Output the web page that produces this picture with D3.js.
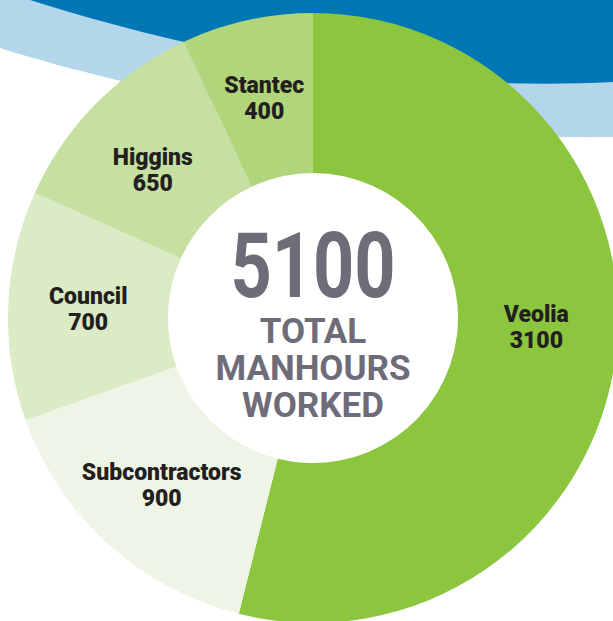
<!DOCTYPE html>
<html>
<head>
<meta charset="utf-8">
<script src="https://cdn.jsdelivr.net/npm/d3@7"></script>
<style>
  html, body { margin: 0; padding: 0; background: #fff; }
  svg { display: block; }
</style>
</head>
<body>
<script>
// data
const names = ["Veolia", "Subcontractors", "Council", "Higgins", "Stantec"]
const hours = [3100, 900, 700, 650, 400]
const colors = ["#8cc63f", "#eef5e6", "#dbebc5", "#c5e0a0", "#b0d57a"]
const totalLabel = "5100"
const centerLines = ["TOTAL", "MANHOURS", "WORKED"]

const width = 613
const height = 621
const cx = 313, cy = 318
const outerR = 305, innerR = 145

const svg = d3.select("body")
    .append("svg")
    .attr("xmlns", "http://www.w3.org/2000/svg")
    .attr("width", width)
    .attr("height", height)

// background waves at the top
const dark = d3.path()
dark.moveTo(30, 0)
dark.bezierCurveTo(250, 70, 450, 90, 613, 82)
dark.lineTo(613, 0)
dark.closePath()

const light = d3.path()
light.moveTo(0, 0)
light.lineTo(613, 0)
light.lineTo(613, 137)
light.bezierCurveTo(380, 140, 150, 95, 0, 48)
light.closePath()

svg.append("path").attr("d", light.toString()).style("fill", "#b3d6ea")
svg.append("path").attr("d", dark.toString()).style("fill", "#0077b5")

const rows = names.map(function (n, i) { return { name: n, value: hours[i], color: colors[i] } })

const pie = d3.pie().sort(null).value(function (d) { return d.value })
const arc = d3.arc().innerRadius(innerR).outerRadius(outerR)
const labelArc = d3.arc().innerRadius(225).outerRadius(225)

const g = svg.append("g").attr("transform", "translate(" + cx + "," + cy + ")")

g.append("circle").attr("r", innerR).style("fill", "#fff")

g.selectAll("path.slice")
    .data(pie(rows))
    .enter().append("path")
    .attr("class", "slice")
    .attr("d", arc)
    .style("fill", function (d) { return d.data.color })

// a couple of labels sit a bit off the centroid
const nudge = { Veolia: -19, Higgins: 10 }

const label = g.selectAll("g.label")
    .data(pie(rows))
    .enter().append("g")
    .attr("class", "label")
    .attr("transform", function (d) {
        const c = labelArc.centroid(d)
        return "translate(" + c[0] + "," + (c[1] + (nudge[d.data.name] || 0)) + ")"
    })

label.append("text")
    .attr("y", -5)
    .text(function (d) { return d.data.name })
label.append("text")
    .attr("y", 21)
    .text(function (d) { return d.data.value })

label.selectAll("text")
    .style("text-anchor", "middle")
    .style("font-family", "Roboto, sans-serif")
    .style("font-weight", "900")
    .style("font-size", "23px")
    .style("fill", "#231f20")

// centre text
const center = g.append("g").style("fill", "#6d6c78")
    .style("font-family", "Roboto, sans-serif")
    .style("font-weight", "700")
    .style("text-anchor", "middle")

center.append("text")
    .attr("transform", "translate(0,-21) scale(0.8,1)")
    .style("font-size", "90px")
    .text(totalLabel)

center.selectAll("text.line")
    .data(centerLines)
    .enter().append("text")
    .attr("class", "line")
    .attr("transform", function (d, i) { return "translate(0," + (25 + i * 37) + ")" })
    .style("font-size", "35px")
    .text(function (d) { return d })
</script>
</body>
</html>
